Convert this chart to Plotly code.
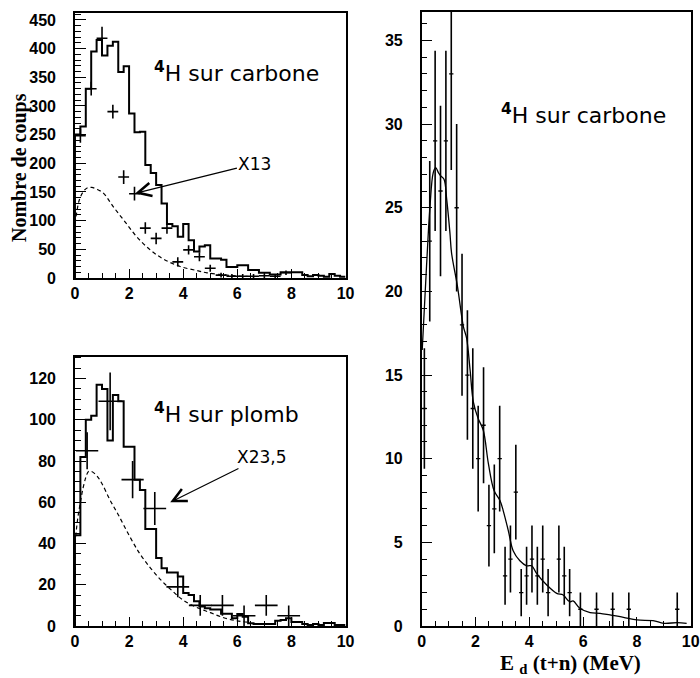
import plotly.graph_objects as go

# ---------------- data ----------------
bin_edges = [round(0.2 * i, 1) for i in range(51)]

# top-left: 4H on carbon (simulation histogram, 0.2 MeV bins)
carb_hist = [250, 264, 330, 395, 415, 388, 405, 412, 359, 369,
             287, 254, 255, 197, 183, 162, 130, 94, 90, 72,
             94, 66, 46, 55, 57, 34, 34, 32, 19, 19,
             22, 22, 14, 14, 9, 9, 6, 6, 10, 10,
             10, 10, 5, 3, 5, 4, 2, 7, 4, 2]
carb_pts_x = [0.2, 0.6, 1.0, 1.4, 1.8, 2.2, 2.6, 3.0, 3.4, 3.8, 4.2, 4.6, 5.0,
              5.4, 5.8, 6.2, 6.6, 7.0, 7.4, 7.8]
carb_pts_y = [248, 330, 418, 290, 176, 147, 87, 69, 87, 28, 49, 37, 17,
              5, 3, 3, 3, 4, 3, 9]
carb_pts_err = [12, 12, 20, 12, 12, 12, 10, 10, 10, 8, 8, 8, 6,
                4, 4, 4, 4, 4, 4, 4]
carb_bg_x = [0.0, 0.06, 0.16, 0.3, 0.45, 0.62, 0.8, 1.05, 1.42, 1.85, 2.28,
             2.78, 3.27, 3.89, 4.5, 4.88, 5.5, 6.0, 6.5]
carb_bg_y = [95, 113, 136, 150, 157, 158, 155, 148, 124, 98, 72,
             49, 33, 20, 13, 9, 5.5, 3.5, 2.5]

# bottom-left: 4H on lead
lead_hist = [44, 82, 100, 102, 117, 115, 90, 112, 109, 87,
             87, 71, 66, 47, 47, 33, 28, 26, 26, 24,
             16, 15, 12, 9.4, 8.6, 8, 8, 6, 6, 3.7,
             5.8, 4.5, 1.3, 1, 1, 1, 1, 2.6, 2.9, 3.7,
             2, 2, 1, 0.5, 1, 0.5, 1.5, 1.5, 0.5, 0.5]
lead_pts_x = [0.45, 1.3, 2.13, 2.95, 3.8, 4.63, 5.45, 6.25, 7.07, 7.9]
lead_pts_y = [85, 109, 71, 57, 19, 10, 10, 5, 10, 5]
lead_pts_err = [9, 14, 9, 8, 5, 5, 5, 5, 5, 5]
lead_pts_xerr = [0.41, 0.43, 0.41, 0.42, 0.42, 0.42, 0.42, 0.42, 0.42, 0.42]
lead_bg_x = [0.0, 0.1, 0.2, 0.3, 0.4, 0.5, 0.6, 0.8, 1.0, 1.3, 1.6, 2.0, 2.4,
             2.8, 3.2, 3.6, 4.0, 4.5, 5.0, 5.5, 6.0, 6.4]
lead_bg_y = [40, 52, 60, 67, 72, 75, 75, 73, 69, 61, 54, 44, 35,
             28, 22, 17, 12.5, 9, 6.5, 4, 2.5, 1.8]

# right: 4H on carbon, experimental counts with fit
right_x = [0.1, 0.3, 0.5, 0.7, 0.9, 1.1, 1.3, 1.5, 1.7, 1.9, 2.1, 2.3, 2.5,
           2.7, 2.9, 3.1, 3.3, 3.5, 3.7, 3.9, 4.1, 4.3, 4.5, 4.7, 5.1, 5.3,
           5.5, 5.9, 6.5, 7.1, 7.7, 9.5]
right_y = [13, 23, 29, 26, 29, 33, 25, 18, 15, 13, 10, 12, 6,
           7, 10, 3, 4, 8, 2, 3, 4, 3, 4, 2, 4, 3,
           2, 1, 1, 1, 1, 1]
right_err = [v ** 0.5 for v in right_y]
fit_x = [0.02, 0.18, 0.31, 0.43, 0.52, 0.62, 0.71, 0.83, 0.93, 1.05, 1.11, 1.33,
         1.55, 1.67, 1.8, 1.92, 2.1, 2.29, 2.48, 2.69, 2.91, 3.03, 3.22, 3.4,
         3.65, 3.9, 4.09, 4.27, 4.65, 5.02, 5.26, 5.5, 5.63, 5.88, 6.26, 6.63,
         7.0, 7.5, 8.0, 8.6, 9.0, 9.5, 9.85]
fit_y = [16.5, 21.5, 25.1, 27.1, 27.4, 27.1, 26.9, 26.7, 25.5, 23.5, 22.3, 20.3,
         17.9, 17.2, 15.3, 13.4, 12.4, 11.7, 9.7, 8.1, 7.5, 6.9, 5.7, 4.5,
         3.9, 3.6, 3.6, 3.15, 2.45, 1.95, 1.85, 1.45, 1.5, 1.06, 0.8, 0.76,
         0.66, 0.52, 0.36, 0.32, 0.16, 0.2, 0.16]

x_ticks = [0, 2, 4, 6, 8, 10]

# ---------------- helpers ----------------
def step_xy(vals):
    xs = list(bin_edges[:-1]) + [bin_edges[-1]]
    ys = list(vals) + [vals[-1]]
    return [0] + xs, [0] + ys

fig = go.Figure()

hx, hy = step_xy(carb_hist)
fig.add_trace(go.Scatter(x=hx, y=hy, mode="lines", line=dict(color="black", width=2, shape="hv"),
                         xaxis="x", yaxis="y"))
fig.add_trace(go.Scatter(x=carb_bg_x, y=carb_bg_y, mode="lines",
                         line=dict(color="black", width=1.2, dash="4px,3px", shape="spline"),
                         xaxis="x", yaxis="y"))
fig.add_trace(go.Scatter(x=carb_pts_x, y=carb_pts_y, mode="markers", marker=dict(size=1, color="black"),
                         error_x=dict(type="constant", value=0.2, width=0, thickness=1.6, color="black"),
                         error_y=dict(type="data", array=carb_pts_err, width=0, thickness=1.6, color="black"),
                         xaxis="x", yaxis="y"))

hx, hy = step_xy(lead_hist)
fig.add_trace(go.Scatter(x=hx, y=hy, mode="lines", line=dict(color="black", width=2, shape="hv"),
                         xaxis="x2", yaxis="y2"))
fig.add_trace(go.Scatter(x=lead_bg_x, y=lead_bg_y, mode="lines",
                         line=dict(color="black", width=1.2, dash="4px,3px", shape="spline"),
                         xaxis="x2", yaxis="y2"))
fig.add_trace(go.Scatter(x=lead_pts_x, y=lead_pts_y, mode="markers", marker=dict(size=1, color="black"),
                         error_x=dict(type="data", array=lead_pts_xerr, width=0, thickness=1.6, color="black"),
                         error_y=dict(type="data", array=lead_pts_err, width=0, thickness=1.6, color="black"),
                         xaxis="x2", yaxis="y2"))

fig.add_trace(go.Scatter(x=fit_x, y=fit_y, mode="lines", line=dict(color="black", width=1.3, shape="spline"),
                         xaxis="x3", yaxis="y3"))
fig.add_trace(go.Scatter(x=right_x, y=right_y, mode="markers", marker=dict(size=1, color="black"),
                         error_x=dict(type="constant", value=0.08, width=0, thickness=1.3, color="black"),
                         error_y=dict(type="data", array=right_err, width=0, thickness=1.6, color="black"),
                         xaxis="x3", yaxis="y3"))

tickfont = dict(family="Liberation Sans, Arial", size=16, color="black", weight="bold")

def xax(domain, anchor):
    return dict(domain=domain, anchor=anchor, range=[0, 10], tickvals=x_ticks,
                ticks="inside", ticklen=9, tickwidth=1, tickcolor="black",
                minor=dict(dtick=0.5, ticks="inside", ticklen=5, tickcolor="black", tickwidth=1),
                showline=True, linecolor="black", linewidth=1.5, mirror=True, automargin=False,
                showgrid=False, zeroline=False, tickfont=tickfont, ticklabelstandoff=0)

def yax(domain, anchor, rng, dtick, mdtick):
    return dict(domain=domain, anchor=anchor, range=rng, dtick=dtick, tick0=0,
                ticks="inside", ticklen=11, tickwidth=1, tickcolor="black",
                minor=dict(dtick=mdtick, ticks="inside", ticklen=6, tickcolor="black", tickwidth=1),
                showline=True, linecolor="black", linewidth=1.5, mirror=True, automargin=False,
                showgrid=False, zeroline=False, tickfont=tickfont, ticklabelstandoff=14)

annfont = dict(family="DejaVu Sans", size=22, color="black")
smallfont = dict(family="DejaVu Sans", size=17, color="black")

fig.update_layout(
    width=700, height=678, margin=dict(l=0, r=0, t=0, b=0, autoexpand=False),
    paper_bgcolor="white", plot_bgcolor="white", showlegend=False,
    xaxis=xax([0.1071, 0.4936], "y"),
    yaxis=yax([0.5900, 0.9808], "x", [0, 462], 50, 10),
    xaxis2=xax([0.1071, 0.4936], "y2"),
    yaxis2=yax([0.0767, 0.4735], "x2", [0, 130.5], 20, 5),
    xaxis3=xax([0.6024, 0.9867], "y3"),
    yaxis3=yax([0.0767, 0.9823], "x3", [0, 36.7], 5, 1),
    annotations=[
        dict(text="<b><sup>4</sup></b>H sur carbone", x=5.96, y=359, xref="x", yref="y",
             showarrow=False, font=annfont),
        dict(text="X13", x=2.22, y=147.5, ax=6.65, ay=199.5, xref="x", yref="y", axref="x", ayref="y",
             showarrow=True, arrowhead=5, arrowsize=2.2, arrowwidth=1.2, arrowcolor="black", font=smallfont),
        dict(text="<b><sup>4</sup></b>H sur plomb", x=5.6, y=103.4, xref="x2", yref="y2",
             showarrow=False, font=annfont),
        dict(text="X23,5", x=3.52, y=60, ax=6.9, ay=82, xref="x2", yref="y2", axref="x2", ayref="y2",
             showarrow=True, arrowhead=5, arrowsize=2.2, arrowwidth=1.2, arrowcolor="black", font=smallfont),
        dict(text="<b><sup>4</sup></b>H sur carbone", x=6.03, y=30.6, xref="x3", yref="y3",
             showarrow=False, font=annfont),
        dict(text="<b>E <sub>d</sub> (t+n) (MeV)</b>", x=570 / 700, y=0, xanchor="center", yanchor="bottom",
             xref="paper", yref="paper", showarrow=False, borderpad=0,
             font=dict(family="Liberation Serif", size=21, color="black")),
        dict(text="<b>Nombre de coups</b>", x=19 / 700, y=(678 - 168) / 678, textangle=-90,
             xanchor="center", yanchor="middle",
             xref="paper", yref="paper", showarrow=False,
             font=dict(family="Liberation Serif", size=20, color="black")),
    ],
)

fig.write_html("out.html", post_script="document.body.style.margin='0px';",
               config={"displayModeBar": False})
